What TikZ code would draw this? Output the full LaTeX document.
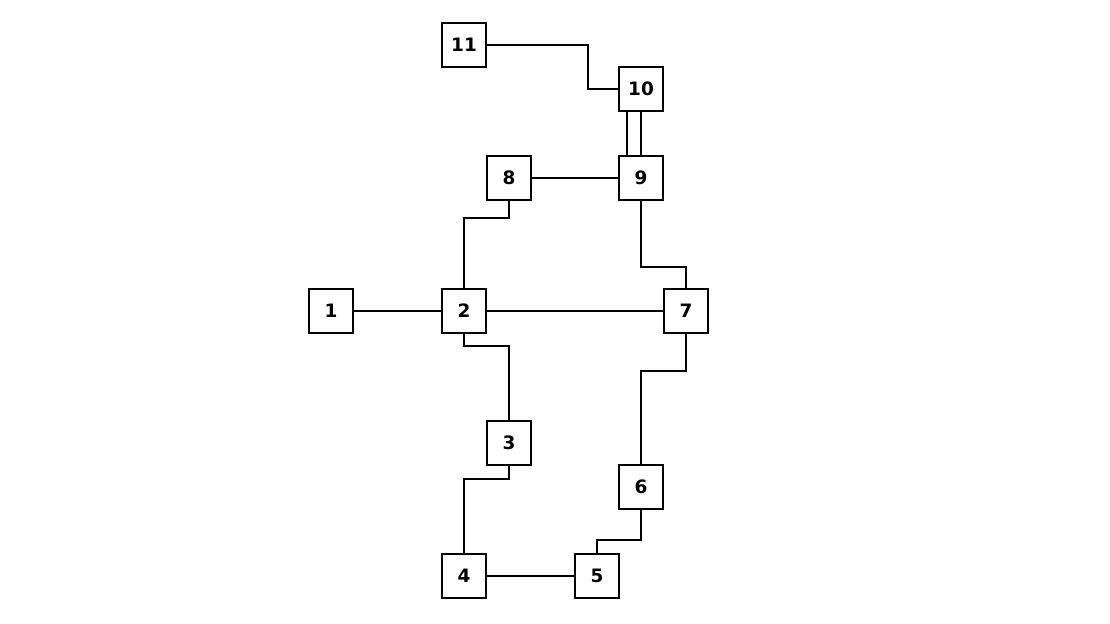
\documentclass[tikz,border=0pt]{standalone}
\usepackage{fontspec}
\setmainfont{DejaVu Sans}
\usepackage{tikz}

\begin{document}
\begin{tikzpicture}[x=0.02cm, y=-0.02cm, line width=0.75pt]
\useasboundingbox (0,0) rectangle (1110,624);
\tikzstyle{every node} = [rectangle, draw, fill=white, minimum size=0.88cm, inner sep=0cm, font=\bfseries\fontsize{10.5}{12}\selectfont]
\node (n11) at (464,45) {11};
\node (n10) at (641,89) {10};
\node (n9) at (641,178) {9};
\node (n8) at (509,178) {8};
\node (n1) at (331,311) {1};
\node (n2) at (464,311) {2};
\node (n7) at (686,311) {7};
\node (n3) at (509,443) {3};
\node (n6) at (641,487) {6};
\node (n4) at (464,576) {4};
\node (n5) at (597,576) {5};
% bend points
\coordinate (k11) at (588,67);
\coordinate (k8) at (480,218);
\coordinate (k9) at (660,267);
\coordinate (k2) at (480,346);
\coordinate (k3) at (490,479);
\coordinate (k7) at (660,371);
\coordinate (k6) at (620,540);
\draw (n11) -| (k11) |- (n10)
	(n8) -- (n9)
	(n8) |- (k8) -| (n2)
	(n1) -- (n2)
	(n2) -- (n7)
	(n9) |- (k9) -| (n7)
	(n2) |- (k2) -| (n3)
	(n3) |- (k3) -| (n4)
	(n4) -- (n5)
	(n7) |- (k7) -| (n6)
	(n6) |- (k6) -| (n5);
\draw ([xshift=-0.28cm]n10.south) -- ([xshift=-0.28cm]n9.north)
	(n10.south) -- (n9.north);
\end{tikzpicture}
\end{document}
